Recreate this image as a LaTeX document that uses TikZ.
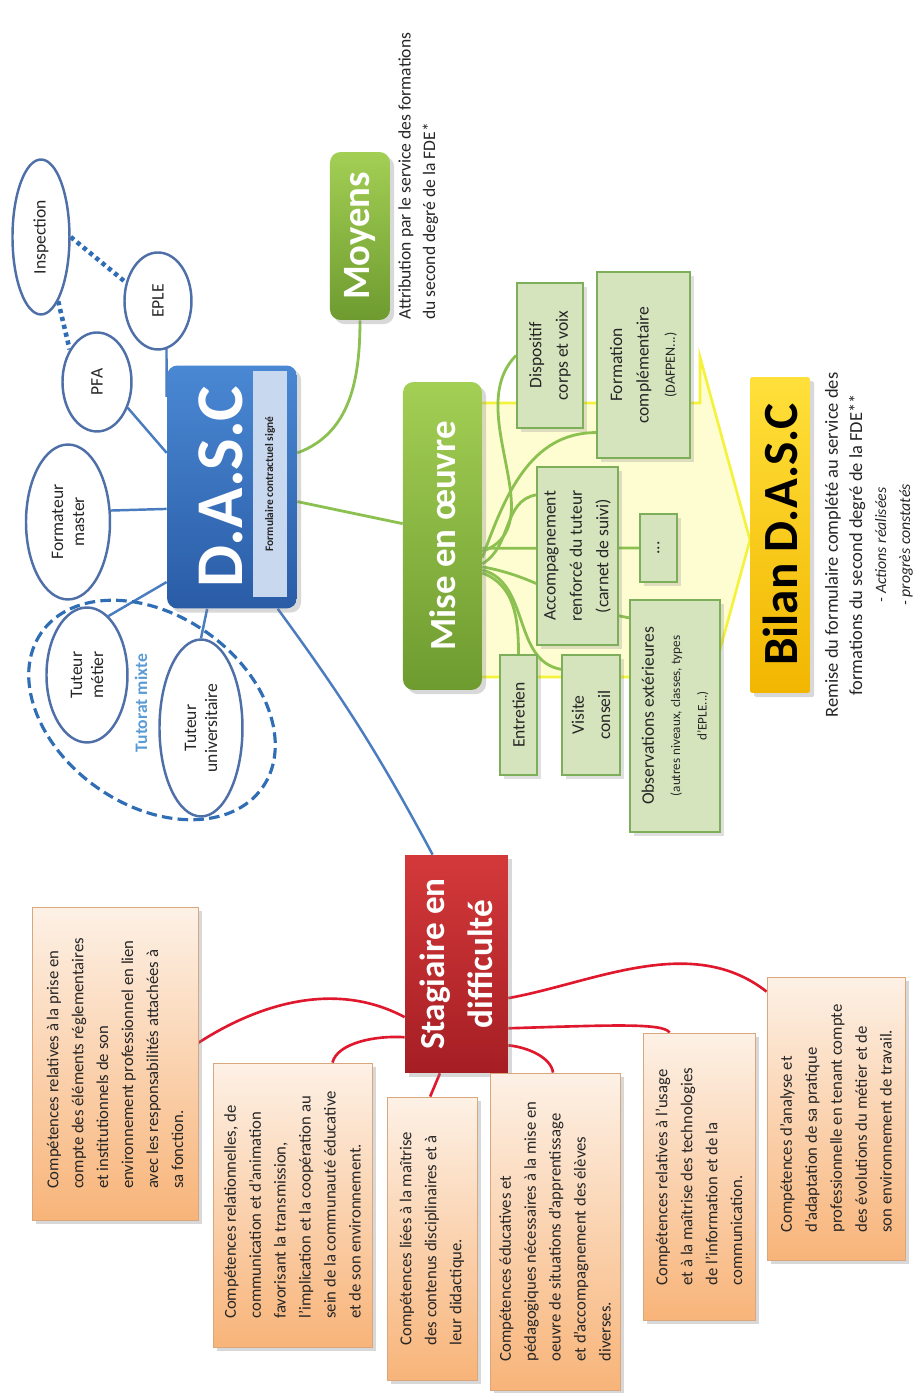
\documentclass[tikz,border=0pt]{standalone}
\usepackage{fontspec}
\setmainfont{Carlito}
\usepackage{xcolor}
\usepackage{tikz}
\usetikzlibrary{shapes.geometric, shadows, backgrounds, calc}

\definecolor{dascTop}{HTML}{4A88D4}
\definecolor{dascBot}{HTML}{2A5CA6}
\definecolor{stripBlue}{HTML}{C8D8EF}
\definecolor{ellBlue}{HTML}{4F6FA8}
\definecolor{lineBlue}{HTML}{4A7CC0}
\definecolor{dotBlue}{HTML}{2F6DB5}
\definecolor{mixBlue}{HTML}{5B9BD5}
\definecolor{greenTop}{HTML}{A3CF55}
\definecolor{greenBot}{HTML}{6E9B2F}
\definecolor{lineGreen}{HTML}{8CC152}
\definecolor{subFill}{HTML}{D6E4BE}
\definecolor{subDraw}{HTML}{7DAE5A}
\definecolor{arrowFill}{HTML}{FEFDD2}
\definecolor{arrowDraw}{HTML}{F4F23A}
\definecolor{bilanTop}{HTML}{FFE03A}
\definecolor{bilanBot}{HTML}{F2B600}
\definecolor{redTop}{HTML}{D4393A}
\definecolor{redBot}{HTML}{A51E24}
\definecolor{lineRed}{HTML}{E0182D}
\definecolor{compTop}{HTML}{FDF1E6}
\definecolor{compBot}{HTML}{F8B479}
\definecolor{compDraw}{HTML}{D9A77E}
\definecolor{txtGray}{HTML}{262626}

\tikzset{
ellBox/.style = {ellipse, draw=ellBlue, line width=1.4pt, fill=white,
                 inner sep=0pt, align=center, text=txtGray,
                 font=\fontsize{10}{12}\selectfont},
titleBox/.style = {rectangle, rounded corners=6pt, text=white, align=center,
                   drop shadow={opacity=0.3}},
subBox/.style = {rectangle, draw=subDraw, line width=1pt, fill=subFill,
                 align=center, text=txtGray, font=\fontsize{10}{15}\selectfont,
                 drop shadow={opacity=0.25}},
compBox/.style = {rectangle, draw=compDraw, line width=0.5pt, top color=compTop,
                  bottom color=compBot, align=left, text=txtGray,
                  font=\fontsize{9.5}{14.2}\selectfont, drop shadow={opacity=0.3}},
blueLine/.style = {draw=lineBlue, line width=1.4pt},
dotLine/.style = {draw=dotBlue, line width=2.6pt, dash pattern=on 2.4pt off 2.2pt},
greenLine/.style = {draw=lineGreen, line width=1.6pt},
redLine/.style = {draw=lineRed, line width=1.5pt}
}

\begin{document}
\begin{tikzpicture}[x=0.02cm, y=0.02cm, rotate=90, transform shape]
  \useasboundingbox (0,0) rectangle (1393,922);

  % Ellipses
    \node[ellBox, minimum width=3.1cm, minimum height=1.14cm] (inspEll) at (1156,881) {Inspection};
    \node[ellBox, minimum width=1.94cm, minimum height=1.34cm] (epleEll) at (1092,764) {EPLE};
    \node[ellBox, minimum width=1.98cm, minimum height=1.38cm] (pfaEll) at (1011,825) {PFA};
    \node[ellBox, minimum width=3.1cm, minimum height=1.68cm] (formEll) at (871,854) {Formateur\\master};
    \node[ellBox, minimum width=2.7cm, minimum height=1.62cm] (metierEll) at (718,835) {Tuteur\\métier};
    \node[ellBox, minimum width=3.54cm, minimum height=1.66cm] (univEll) at (665,721) {Tuteur\\universitaire};
    \node[ellipse, draw=dotBlue, line width=1.8pt, dash pattern=on 6pt off 3pt,
          minimum width=5.4cm, minimum height=3.8cm, rotate=55] (mixteEll) at (683,770) {};
    \node[text=mixBlue, font=\bfseries\fontsize{10}{12}\selectfont] (mixteLabel) at (690,781) {Tutorat mixte};

  % Boxes
    \node[titleBox, top color=dascTop, bottom color=dascBot, minimum width=4.86cm, minimum height=2.6cm] (dascBox) at (906,690) {};
    \node[text=white, font=\bfseries\fontsize{38}{40}\selectfont] (dascTitle) at (906,701) {D.A.S.C};
    \node[fill=stripBlue, minimum width=4.54cm, minimum height=0.68cm, text=txtGray,
          font=\bfseries\fontsize{6.5}{8}\selectfont] (dascStrip) at (909,652) {Formulaire contractuel signé};

    \node[titleBox, top color=greenTop, bottom color=greenBot, minimum width=3.36cm, minimum height=1.2cm,
          font=\bfseries\fontsize{22}{24}\selectfont] (moyensBox) at (1157,562) {Moyens};
    \node[anchor=north west, align=left, inner sep=0pt, text=txtGray,
          font=\fontsize{10}{14}\selectfont] (moyensText) at (1073,524) {Attribution par le service des formations\\du second degré de la FDE*};

    \node[titleBox, top color=greenTop, bottom color=greenBot, minimum width=6.16cm, minimum height=1.58cm,
          font=\bfseries\fontsize{21}{24}\selectfont] (miseBox) at (857,479.5) {Mise en œuvre};

    \node[subBox, minimum width=2.9cm, minimum height=1.32cm] (dispBox) at (1037.5,372) {Dispositif\\corps et voix};
    \node[subBox, minimum width=3.72cm, minimum height=1.86cm] (formBox) at (1028,278.5) {Formation\\complémentaire\\{\fontsize{8}{12}\selectfont (DAFPEN...)}};
    \node[subBox, minimum width=3.56cm, minimum height=1.62cm] (accBox) at (837,344.5) {Accompagnement\\renforcé du tuteur\\(carnet de suivi)};
    \node[subBox, minimum width=1.36cm, minimum height=0.74cm] (etcBox) at (845,263.5) {...};
    \node[subBox, minimum width=2.4cm, minimum height=0.74cm] (entBox) at (678,403.5) {Entretien};
    \node[subBox, minimum width=2.4cm, minimum height=1.16cm] (visBox) at (678,331) {Visite\\conseil};
    \node[subBox, minimum width=4.64cm, minimum height=1.8cm] (obsBox) at (677,247) {Observations extérieures\\{\fontsize{7.5}{11}\selectfont (autres niveaux, classes, types}\\{\fontsize{7.5}{11}\selectfont d'EPLE...)}};

    \node[titleBox, top color=bilanTop, bottom color=bilanBot, text=black, rounded corners=1pt,
          minimum width=6.32cm, minimum height=1.2cm, font=\bfseries\fontsize{28}{30}\selectfont] (bilanBox) at (858,142) {Bilan D.A.S.C};
    \node[align=center, text=txtGray, font=\fontsize{10.5}{13.7}\selectfont] (bilanText) at (848,53)
      {Remise du formulaire complété au service des\\formations du second degré de la FDE**\\{\itshape\fontsize{9}{13.7}\selectfont - Actions réalisées}\\{\itshape\fontsize{9}{13.7}\selectfont - progrès constatés}};

    \node[titleBox, top color=redTop, bottom color=redBot, rounded corners=0pt, minimum width=4.36cm, minimum height=2.06cm,
          font=\bfseries\fontsize{20}{27}\selectfont] (stagBox) at (429,465.5) {Stagiaire en\\difficulté};

    \node[compBox, minimum width=6.26cm, minimum height=3.32cm] (compBoxA) at (329.5,807)
      {Compétences relatives  à la prise en\\compte des éléments réglementaires\\et institutionnels de son\\environnement professionnel en lien\\avec les responsabilités attachées à\\sa fonction.};
    \node[compBox, minimum width=5.68cm, minimum height=3.18cm] (compBoxB) at (188,629.5)
      {Compétences relationnelles, de\\communication et d'animation\\favorisant la transmission,\\l'implication et la coopération au\\sein de la communauté éducative\\et de son environnement.};
    \node[compBox, minimum width=5.66cm, minimum height=1.8cm] (compBoxC) at (154.5,490)
      {Compétences liées à la maîtrise\\des contenus disciplinaires et à\\leur didactique.};
    \node[compBox, minimum width=6.34cm, minimum height=2.6cm] (compBoxD) at (161.5,367)
      {Compétences éducatives et\\pédagogiques nécessaires à la mise en\\oeuvre de situations d'apprentissage\\et d'accompagnement des élèves\\diverses.};
    \node[compBox, minimum width=5.74cm, minimum height=2.24cm] (compBoxE) at (216.5,223)
      {Compétences  relatives à l'usage\\et à la maîtrise des technologies\\de l'information et de la\\communication.};
    \node[compBox, minimum width=5.66cm, minimum height=2.76cm] (compBoxF) at (274.5,86)
      {Compétences d'analyse et\\d'adaptation de sa pratique\\professionnelle en tenant compte\\des évolutions du métier et de\\son environnement de travail.};

  % Lines
  \begin{scope}[on background layer]
    \fill[white] (0,0) rectangle (1393,922);
    \filldraw[fill=arrowFill, draw=arrowDraw, line width=1.5pt]
      (990,442) -- (990,222) -- (1036,222) -- (853,172) -- (670,222) -- (716,222) -- (716,442) -- cycle;

    \draw[dotLine] (inspEll.south) -- (epleEll.60);
    \draw[dotLine] (inspEll.195) -- (pfaEll.40);

    \draw[blueLine] ($(dascBox.north west)!0.87!(dascBox.north east)$) -- (epleEll.190);
    \draw[blueLine] ($(dascBox.north west)!0.64!(dascBox.north east)$) -- (pfaEll.230);
    \draw[blueLine] ($(dascBox.north west)!0.41!(dascBox.north east)$) -- (formEll.285);
    \draw[blueLine] ($(dascBox.north west)!0.11!(dascBox.north east)$) -- (metierEll.340);
    \draw[blueLine] ($(dascBox.south west)!0.69!(dascBox.north west)$) -- (univEll.east);
    \draw[blueLine] ($(dascBox.south west)!0.15!(dascBox.north west)$) to[bend left=4] ($(stagBox.south east)!0.73!(stagBox.north east)$);

    \draw[greenLine] ($(dascBox.south west)!0.64!(dascBox.south east)$) to[out=-70, in=180] (moyensBox.west);
    \draw[greenLine] ($(dascBox.south west)!0.44!(dascBox.south east)$) -- ($(miseBox.north west)!0.54!(miseBox.north east)$);

    \draw[greenLine] ($(miseBox.south west)!0.45!(miseBox.south east)$) to[out=-70, in=135] (dispBox.north);
    \draw[greenLine] ($(miseBox.south west)!0.43!(miseBox.south east)$) to[out=-20, in=90] ($(formBox.north west)!0.14!(formBox.north east)$);
    \draw[greenLine] ($(miseBox.south west)!0.41!(miseBox.south east)$) to[out=-60, in=100] ($(accBox.north west)!0.84!(accBox.north east)$);
    \draw[greenLine] ($(miseBox.south west)!0.46!(miseBox.south east)$) -- (etcBox.north);
    \draw[greenLine] ($(miseBox.south west)!0.40!(miseBox.south east)$) to[out=-100, in=80] ($(obsBox.north west)!0.92!(obsBox.north east)$);
    \draw[greenLine] ($(miseBox.south west)!0.38!(miseBox.south east)$) to[out=-110, in=0] (entBox.east);
    \draw[greenLine] ($(miseBox.south west)!0.39!(miseBox.south east)$) to[out=-105, in=80] ($(visBox.north west)!0.875!(visBox.north east)$);

    \draw[redLine] ($(compBoxA.south west)!0.566!(compBoxA.south east)$) .. controls +(35,-54) and +(39,73) .. ($(stagBox.north west)!0.257!(stagBox.north east)$);
    \draw[redLine] ($(compBoxB.south east)!0.25!(compBoxB.north east)$) .. controls +(20,-5) and +(2,28) .. ($(stagBox.north west)!0.165!(stagBox.north east)$);
    \draw[redLine] ($(stagBox.south west)!0.66!(stagBox.north west)$) -- ($(compBoxC.south east)!0.52!(compBoxC.north east)$);
    \draw[redLine] ($(stagBox.south west)!0.128!(stagBox.south east)$) .. controls +(-2,-20) and +(15,2) .. ($(compBoxD.south east)!0.515!(compBoxD.north east)$);
    \draw[redLine] ($(stagBox.south west)!0.206!(stagBox.south east)$) .. controls +(3,-100) and +(10,6) .. ($(compBoxE.south east)!0.76!(compBoxE.north east)$);
    \draw[redLine] ($(stagBox.south west)!0.344!(stagBox.south east)$) .. controls +(15,-84) and +(59,75) .. ($(compBoxF.north west)!0.947!(compBoxF.north east)$);
  \end{scope}
\end{tikzpicture}
\end{document}
